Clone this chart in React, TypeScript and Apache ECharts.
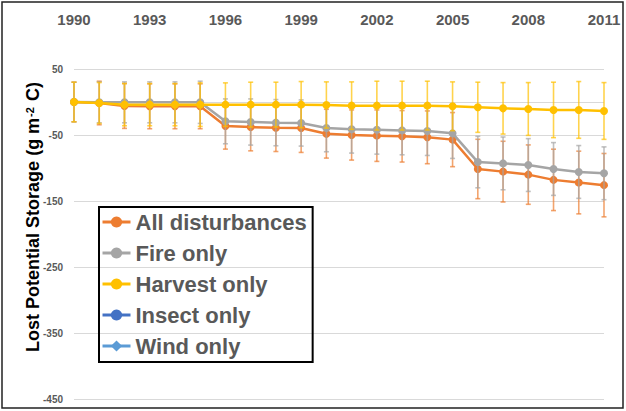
import React, { useEffect, useRef } from "react";
import * as echarts from "echarts";

const years = [
  "1990", "1991", "1992", "1993", "1994", "1995", "1996", "1997", "1998", "1999", "2000",
  "2001", "2002", "2003", "2004", "2005", "2006", "2007", "2008", "2009", "2010", "2011",
];
const allDisturbances = [0, -1.5, -6, -6.5, -6.5, -6.5, -36.4, -38, -39, -39.4, -48, -50, -51, -52, -53.5, -57, -101.5, -105.5, -110, -118, -122, -126];
const allErr = [30, 33, 34, 34, 34, 34, 35, 36, 36, 37, 37, 38, 39, 39, 40, 41, 45, 46, 45, 46.5, 47.5, 48];
const fireOnly = [0, -0.5, -0.5, -0.5, -0.5, -0.5, -29.3, -30.3, -31.3, -31.8, -39.4, -41.4, -42, -43, -44, -47.5, -91, -93, -95.5, -101.5, -106, -108];
const fireErr = [30, 31, 31, 31, 31, 32, 34, 35, 35, 35, 36, 36, 37, 37, 37, 38, 39, 40, 40, 40, 40, 40];
const harvestOnly = [0, -1.5, -4, -4, -4, -4, -4, -4, -4, -4, -4.5, -5.5, -5.5, -5.5, -5.5, -6.5, -8, -9.6, -10.6, -12, -12, -13.6];
const harvestErr = [30, 31, 32, 32, 32, 33, 33, 34, 34, 35, 35, 36, 37, 37, 37, 37, 38, 39, 40, 42, 43, 43];
const insectOnly: number[] = [];
const windOnly: number[] = [];
const legendNames = ["All disturbances", "Fire only", "Harvest only", "Insect only", "Wind only"];
const yLabels = [50, -50, -150, -250, -350, -450];

const FONT = "'Liberation Sans', Arial, sans-serif";
const C_ALL = "#ED7D31";
const C_FIRE = "#A5A5A5";
const C_HARV = "#FFC000";
const C_INS = "#4472C4";
const C_WIND = "#5B9BD5";

function errSeries(name: string, vals: number[], errs: number[], color: string, z: number) {
  return {
    type: "custom",
    name,
    z,
    silent: true,
    encode: { x: 0, y: [1, 2] },
    data: vals.map((v, i) => [i, v - errs[i], v + errs[i]]),
    renderItem: (params: any, api: any) => {
      const x = api.value(0);
      const lo = api.coord([x, api.value(1)]);
      const hi = api.coord([x, api.value(2)]);
      const hw = 2.5;
      const style = { stroke: color, lineWidth: 1.6, opacity: 0.7 };
      return {
        type: "group",
        children: [
          { type: "line", shape: { x1: hi[0], y1: hi[1], x2: lo[0], y2: lo[1] }, style },
          { type: "line", shape: { x1: hi[0] - hw, y1: hi[1], x2: hi[0] + hw, y2: hi[1] }, style },
          { type: "line", shape: { x1: lo[0] - hw, y1: lo[1], x2: lo[0] + hw, y2: lo[1] }, style },
        ],
      };
    },
  };
}

function lineSeries(name: string, vals: number[], color: string, z: number, symbol = "circle") {
  return {
    type: "line",
    name,
    z,
    data: vals,
    symbol,
    symbolSize: 8,
    showAllSymbol: true,
    lineStyle: { color, width: 2.5 },
    itemStyle: { color },
  };
}

export default function App() {
  const ref = useRef<HTMLDivElement>(null);
  useEffect(() => {
    if (!ref.current) return;
    const chart = echarts.init(ref.current, undefined, { renderer: "svg" });
    const gridColors = ["#D9D9D9", "transparent", "#D9D9D9", "transparent", "#D9D9D9", "transparent", "#D9D9D9", "transparent", "#D9D9D9", "#D9D9D9", "#D9D9D9"];
    chart.setOption({
      animation: false,
      backgroundColor: "#fff",
      grid: { left: 74, right: 22, top: 69, bottom: 12, containLabel: false },
      xAxis: {
        type: "category",
        position: "top",
        data: years,
        boundaryGap: false,
        axisLine: { show: false },
        axisTick: { show: false },
        axisLabel: {
          interval: 2,
          margin: 42,
          fontSize: 15,
          fontWeight: "bold",
          color: "#595959",
          fontFamily: FONT,
        },
        splitLine: { show: false },
      },
      yAxis: {
        type: "value",
        min: -450,
        max: 50,
        interval: 50,
        axisLine: { show: false },
        axisTick: { show: false },
        axisLabel: {
          margin: 11,
          fontSize: 10,
          fontWeight: "bold",
          color: "#595959",
          fontFamily: FONT,
          formatter: (v: number) => (yLabels.indexOf(v) >= 0 ? String(v) : ""),
        },
        splitLine: { show: true, lineStyle: { color: gridColors, width: 1 } },
      },
      legend: {
        data: legendNames,
        orient: "vertical",
        left: 99,
        top: 207,
        borderColor: "#000",
        borderWidth: 2,
        padding: [4, 6, 5, 2],
        itemGap: 9,
        itemWidth: 28,
        itemHeight: 14,
        lineStyle: { width: 3 },
        textStyle: { fontSize: 22, fontWeight: "bold", color: "#595959", fontFamily: FONT, lineHeight: 22 },
      },
      graphic: [
        {
          type: "text",
          x: 33,
          y: 217,
          rotation: Math.PI / 2,
          silent: true,
          style: {
            text: "{a|Lost Potential Storage (g m}{s|-2}{a| C)}",
            align: "center",
            verticalAlign: "middle",
            rich: {
              a: { fontSize: 18, fontWeight: "bold", fill: "#000", fontFamily: FONT },
              s: { fontSize: 11, fontWeight: "bold", fill: "#000", fontFamily: FONT, verticalAlign: "top", padding: [0, 1, 6, 1] },
            },
          },
        },
        {
          type: "rect",
          shape: { x: 2, y: 2, width: 621, height: 406 },
          style: { fill: "transparent", stroke: "#222", lineWidth: 1.5 },
          z: 100,
          silent: true,
        },
      ],
      series: [
        errSeries("errAll", allDisturbances, allErr, C_ALL, 2),
        lineSeries("All disturbances", allDisturbances, C_ALL, 3),
        errSeries("errFire", fireOnly, fireErr, C_FIRE, 4),
        lineSeries("Fire only", fireOnly, C_FIRE, 5),
        errSeries("errHarv", harvestOnly, harvestErr, C_HARV, 6),
        lineSeries("Harvest only", harvestOnly, C_HARV, 7),
        lineSeries("Insect only", insectOnly, C_INS, 8),
        lineSeries("Wind only", windOnly, C_WIND, 9, "diamond"),
      ],
    });
    return () => chart.dispose();
  }, []);
  return <div ref={ref} style={{ position: "absolute", left: 0, top: 0, width: 626, height: 411 }} />;
}
